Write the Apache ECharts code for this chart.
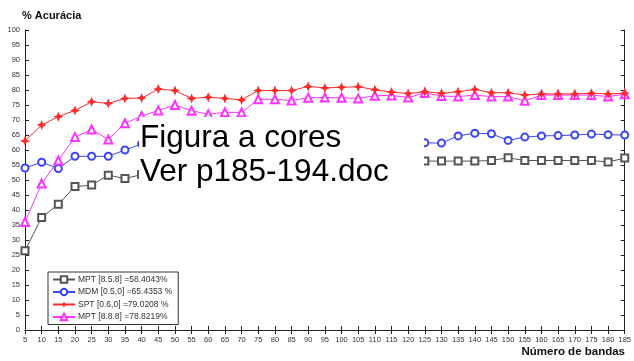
<!DOCTYPE html>
<html>
<head>
<meta charset="utf-8">
<script src="https://cdn.jsdelivr.net/npm/echarts@6/dist/echarts.min.js"></script>
<style>html,body{margin:0;padding:0;background:#fff}#c{width:634px;height:361px}</style>
</head>
<body>
<div id="c"></div>
<script>
var bands = [5,10,15,20,25,30,35,40,45,50,55,60,65,70,75,80,85,90,95,100,105,110,115,120,125,130,135,140,145,150,155,160,165,170,175,180,185];
var mpt858 = [26.4,37.5,41.9,47.8,48.3,51.6,50.5,51.8,52.5,53,53.5,54,54,54.5,55,55,55.5,55.5,56,56,56,56,56.5,56.5,56.3,56.3,56.3,56.3,56.5,57.4,56.5,56.5,56.5,56.5,56.5,56,57.3];
var mdm050 = [54,55.9,53.8,57.9,57.9,57.9,60,62,62.5,63,63,63,63.5,63.5,63.5,64,64,64,63.5,63.5,63,63,63,62.8,62.4,62.3,64.7,65.6,65.4,63.2,64.3,64.7,64.8,65,65.3,65.1,65];
var spt060 = [63,68.3,71.1,73.2,76.1,75.5,77.2,77.3,80.3,79.8,77.2,77.6,77.2,76.7,79.8,79.8,79.8,81.2,80.7,80.9,81.1,80.1,79.3,78.8,79.4,78.9,79.4,80.2,79.1,79.1,78.3,78.7,78.7,78.7,78.9,78.7,78.9];
var mpt888 = [36,48.8,56.5,64.3,66.8,63.5,68.9,71.3,73.2,75,73.1,71.9,72.6,72.5,76.9,76.9,76.5,77.4,77.5,77.4,77.2,78.1,78.2,77.5,79,78,77.8,78.3,77.8,77.8,76.4,78.3,78.3,78.3,78.3,77.8,78.6];
var seriesNames = ['MPT [8.5.8] =58.4043%','MDM [0.5,0] =65.4353 %','SPT [0.6,0] =79.0208 %','MPT [8.8.8] =78.8219%'];
var yTitle = '% Acurácia';
var xTitle = 'Número de bandas';
var overlayLines = ['Figura a cores','Ver p185-194.doc'];

function pairs(arr){ return bands.map(function(b,i){ return [b, arr[i]]; }); }

var star = 'path://M0,-10 L3,-3 L10,0 L3,3 L0,10 L-3,3 L-10,0 L-3,-3 Z';
var chart = echarts.init(document.getElementById('c'), null, {renderer:'canvas'});
var axisLbl = {fontFamily:'Liberation Sans', fontSize:7.5, color:'#333'};
var axLine = {lineStyle:{color:'#222', width:1}};
chart.setOption({
  animation:false,
  backgroundColor:'#fff',
  grid:{left:25, right:9, top:30, bottom:31, containLabel:false},
  xAxis:[
    {type:'value', min:5, max:185, interval:5, axisLine:axLine,
     axisTick:{inside:true, length:4, lineStyle:{color:'#222'}},
     axisLabel:Object.assign({margin:6, showMaxLabel:true, showMinLabel:true}, axisLbl),
     splitLine:{show:false}},
    {type:'value', position:'top', min:5, max:185, interval:5, axisLine:axLine,
     axisTick:{inside:true, length:4, lineStyle:{color:'#222'}},
     axisLabel:{show:false}, splitLine:{show:false}}
  ],
  yAxis:[
    {type:'value', min:0, max:100, interval:5, axisLine:axLine,
     axisTick:{inside:true, length:4, lineStyle:{color:'#222'}},
     axisLabel:Object.assign({margin:5}, axisLbl), splitLine:{show:false}},
    {type:'value', position:'right', min:0, max:100, interval:5, axisLine:axLine,
     axisTick:{inside:true, length:4, lineStyle:{color:'#222'}},
     axisLabel:{show:false}, splitLine:{show:false}}
  ],
  legend:{
    orient:'vertical', left:48, top:272,
    itemWidth:22, itemHeight:8, itemGap:3.5,
    padding:[3,6,3,4], borderColor:'#333', borderWidth:1, backgroundColor:'#fff',
    textStyle:{fontFamily:'Liberation Sans', fontSize:8.5, color:'#333', padding:[0,0,0,-2]},
    data:seriesNames
  },
  series:[
    {name:seriesNames[0], type:'line', data:pairs(mpt858), symbol:'emptyRect', symbolSize:7,
     lineStyle:{color:'#555', width:1}, itemStyle:{color:'#555', borderWidth:1}, z:2},
    {name:seriesNames[1], type:'line', data:pairs(mdm050), symbol:'emptyCircle', symbolSize:7,
     lineStyle:{color:'#3b45f5', width:1}, itemStyle:{color:'#3b45f5', borderWidth:1}, z:2},
    {name:seriesNames[2], type:'line', data:pairs(spt060), symbol:star, symbolSize:10,
     lineStyle:{color:'#ff2a2a', width:1}, itemStyle:{color:'#ff2a2a'}, z:3},
    {name:seriesNames[3], type:'line', data:pairs(mpt888), symbol:'emptyTriangle', symbolSize:8,
     lineStyle:{color:'#ff33ff', width:1}, itemStyle:{color:'#ff33ff', borderWidth:1}, z:2}
  ],
  graphic:[
    {type:'text', left:22, top:10, style:{text:yTitle, font:'bold 11px "Liberation Sans"', fill:'#111'}},
    {type:'text', right:9, top:346, style:{text:xTitle, font:'bold 11.5px "Liberation Sans"', fill:'#111'}},
    {type:'rect', left:139, top:117, z:100, shape:{width:285, height:78}, style:{fill:'#fff'}},
    {type:'text', left:140, top:122, z:101, style:{text:overlayLines[0], font:'31.5px "Liberation Sans"', fill:'#000'}},
    {type:'text', left:140, top:156, z:101, style:{text:overlayLines[1], font:'31.5px "Liberation Sans"', fill:'#000'}}
  ]
});
</script>
</body>
</html>
